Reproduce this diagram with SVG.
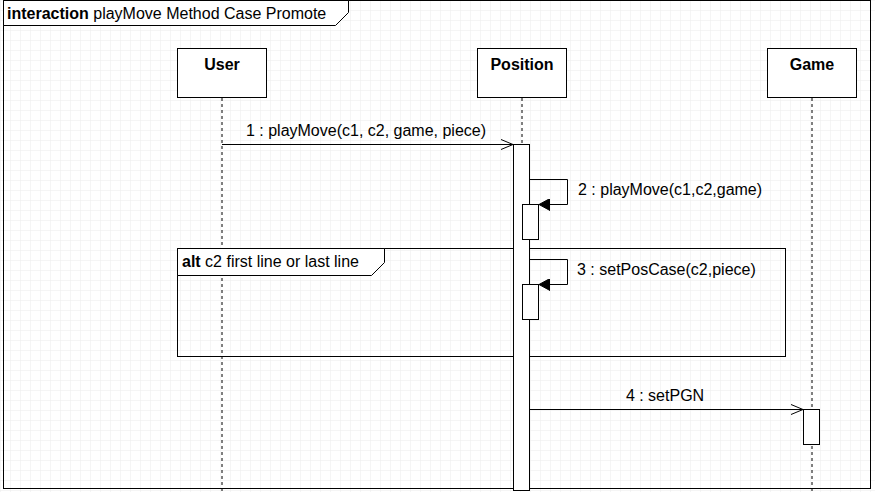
<svg xmlns="http://www.w3.org/2000/svg" width="875" height="492" viewBox="0 0 875 492">
<style>
text{font-family:"Liberation Sans",Arial,sans-serif;font-size:16px;fill:#000}
.b{font-weight:bold}
.box{fill:#fff;stroke:#000;stroke-width:1}
.frame{fill:none;stroke:#000;stroke-width:1}
.life{stroke:#000;stroke-dasharray:3 3;fill:none}
.msg{stroke:#000;fill:none;stroke-width:1}
.act{fill:#fff;stroke:#000}
</style>
<defs>
<pattern id="grid" width="10" height="10" patternUnits="userSpaceOnUse">
<path d="M10 0H0V10" fill="none" stroke="#ececec" stroke-width="1"/>
</pattern>
<marker id="open" markerWidth="14" markerHeight="12" refX="13" refY="6" orient="auto" markerUnits="userSpaceOnUse">
<path d="M1 1L13 6L1 11" fill="none" stroke="#000"/>
</marker>
<marker id="fill" markerWidth="12" markerHeight="12" refX="11" refY="6" orient="auto" markerUnits="userSpaceOnUse">
<path d="M0 0L11 6L0 12Z" fill="#000" stroke="#000"/>
</marker>
</defs>
<rect width="875" height="492" fill="#fff"/>
<rect width="875" height="492" fill="url(#grid)"/>
<g id="frame">
<rect x="3.5" y="0.5" width="867" height="488" class="frame"/>
<path d="M3.5 0.5H348.5V12.5L335.5 25.5H3.5Z" fill="#fff" stroke="#000"/>
<text x="7" y="19"><tspan class="b">interaction</tspan> playMove Method Case Promote</text>
</g>
<g id="User">
<rect x="177.5" y="48.5" width="89" height="49" class="box"/>
<text x="222" y="70" text-anchor="middle" class="b">User</text>
<path d="M222 98V492" class="life"/>
</g>
<g id="Position">
<rect x="477.5" y="48.5" width="89" height="49" class="box"/>
<text x="522" y="70" text-anchor="middle" class="b">Position</text>
<path d="M522 98V492" class="life"/>
</g>
<g id="Game">
<rect x="767.5" y="48.5" width="89" height="49" class="box"/>
<text x="812" y="70" text-anchor="middle" class="b">Game</text>
<path d="M812 98V492" class="life"/>
</g>
<g id="alt">
<rect x="177.5" y="248.5" width="608" height="108" class="frame"/>
<path d="M177.5 248.5H384.5V262.5L371.5 275.5H177.5Z" fill="#fff" stroke="#000"/>
<text x="182" y="267"><tspan class="b">alt</tspan> c2 first line or last line</text>
</g>
<g id="activations">
<rect x="513.5" y="144.5" width="16" height="346" class="act"/>
<rect x="522.5" y="204.5" width="16" height="35" class="act"/>
<rect x="522.5" y="284.5" width="16" height="35" class="act"/>
<rect x="803.5" y="409.5" width="16" height="35" class="act"/>
</g>
<g id="connectors">
<path d="M222 144.5H513" class="msg" marker-end="url(#open)"/>
<text x="366" y="136" text-anchor="middle">1 : playMove(c1, c2, game, piece)</text>
<path d="M529.5 179.5H567.5V204.5H539" class="msg" marker-end="url(#fill)"/>
<text x="578" y="195">2 : playMove(c1,c2,game)</text>
<path d="M529.5 259.5H567.5V284.5H539" class="msg" marker-end="url(#fill)"/>
<text x="577" y="275">3 : setPosCase(c2,piece)</text>
<path d="M529.5 409.5H803" class="msg" marker-end="url(#open)"/>
<text x="665" y="401" text-anchor="middle">4 : setPGN</text>
</g>
</svg>
